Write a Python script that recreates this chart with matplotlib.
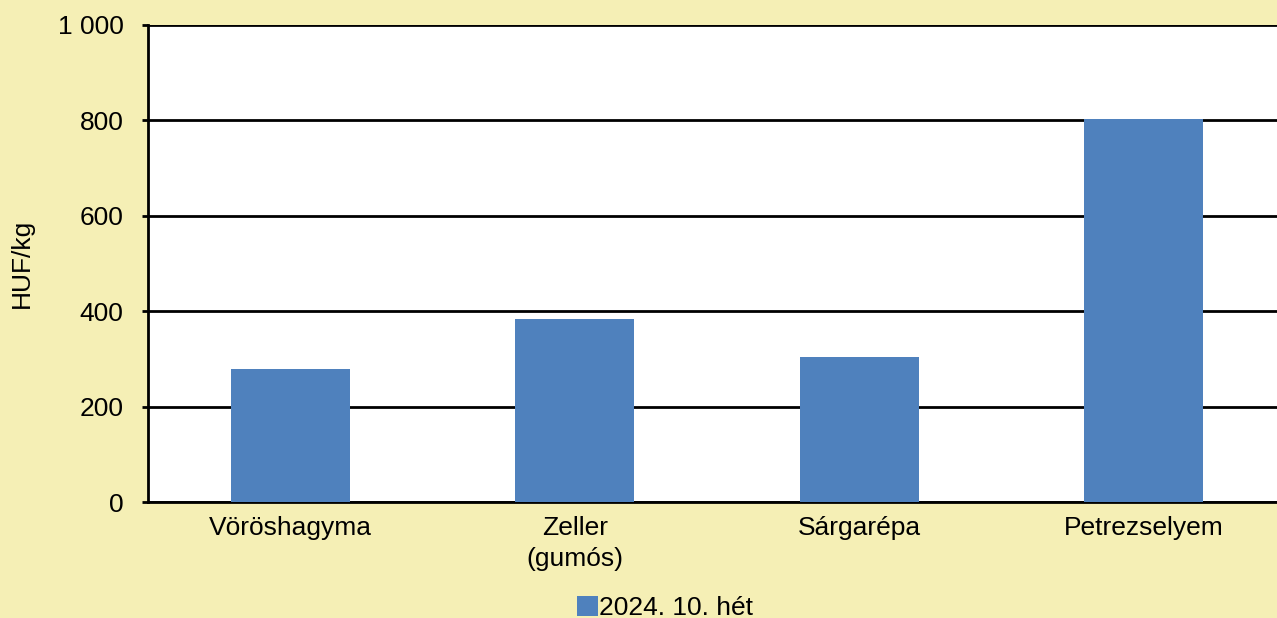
import matplotlib.pyplot as plt
from matplotlib.ticker import FuncFormatter

categories = ['Vöröshagyma', 'Zeller\n(gumós)', 'Sárgarépa', 'Petrezselyem']
values = [279, 384, 304, 803]
series_label = '2024. 10. hét'
y_ticks = [0, 200, 400, 600, 800, 1000]

bg = '#F5EFB5'
bar_color = '#4F81BD'

plt.rcParams['font.family'] = ['Liberation Sans', 'DejaVu Sans']

fig = plt.figure(figsize=(12.77, 6.18), dpi=100, facecolor=bg)
ax = fig.add_axes([148 / 1277, 116 / 618, 1138 / 1277, 477 / 618])
ax.set_facecolor('white')

x = range(len(categories))
ax.bar(x, values, width=0.42, color=bar_color, label=series_label, zorder=3)

ax.set_xlim(-0.5, 3.5)
ax.set_ylim(0, 1000)
ax.set_yticks(y_ticks)
ax.yaxis.set_major_formatter(FuncFormatter(lambda v, p: f'{int(v):,}'.replace(',', ' ')))
ax.grid(axis='y', color='black', linewidth=2, zorder=1)
ax.set_xticks(list(x))
ax.set_xticklabels(categories, fontsize=19, linespacing=1.4)
ax.tick_params(axis='x', length=0, pad=10)
ax.tick_params(axis='y', labelsize=19, length=4.5, width=2, pad=13)

for side in ['top', 'right']:
    ax.spines[side].set_visible(False)
ax.spines['left'].set_linewidth(2)
ax.spines['bottom'].set_linewidth(2)

ax.set_ylabel('HUF/kg', fontsize=19)
ax.yaxis.set_label_coords(-0.1, 0.5)

fig.legend(loc='upper center', bbox_to_anchor=(665 / 1277, 22 / 618), frameon=False,
           fontsize=19, handlelength=0.8, handleheight=0.8, handletextpad=0.05,
           borderpad=0, borderaxespad=0)

fig.savefig('out.png', dpi=100, facecolor=bg)
